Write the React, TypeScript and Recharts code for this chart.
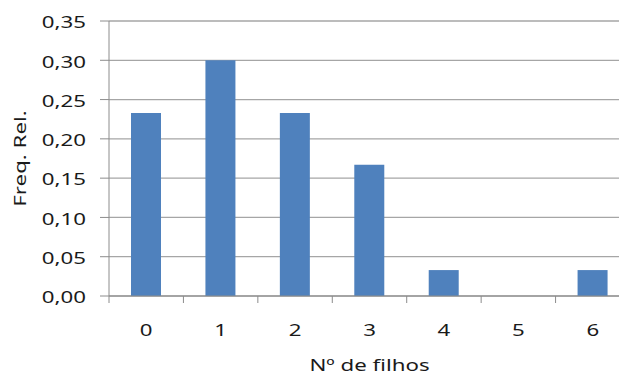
import { BarChart, Bar, XAxis, YAxis, CartesianGrid, Label } from 'recharts'

const categories = ['0', '1', '2', '3', '4', '5', '6']
const freqRel = [0.233, 0.3, 0.233, 0.167, 0.033, 0, 0.033]
const yTicks = [0, 0.05, 0.1, 0.15, 0.2, 0.25, 0.3, 0.35]

const data = categories.map((name, i) => ({ name, value: freqRel[i] }))

const FONT = '"Noto Sans", "Open Sans", sans-serif'
const TEXT = '#1a1a1a'
const AXIS = '#8c8c8c'
const SX = 1.35
const X_TICK_GAP = 26 // tickSize + tickMargin of the category axis

function YTick({ x, y, payload }: any) {
    const label = Number(payload.value).toFixed(2).replace('.', ',')
    return (
        <g transform={`translate(${x},${y + 1})`}>
            <text transform={`scale(${SX},1)`} textAnchor="end" dominantBaseline="central"
                fontFamily={FONT} fontSize={16.5} fill={TEXT}>{label}</text>
        </g>
    )
}

// label at the band centre, tick mark at the band's left edge (Excel style)
function XTick({ x, y, payload, width, visibleTicksCount, index }: any) {
    const half = width / (visibleTicksCount || categories.length) / 2
    const axisY = y - X_TICK_GAP
    return (
        <g>
            <line x1={x - half} x2={x - half} y1={axisY} y2={axisY + 7} stroke={AXIS} />
            {index === categories.length - 1 &&
                <line x1={x + half} x2={x + half} y1={axisY} y2={axisY + 7} stroke={AXIS} />}
            <g transform={`translate(${x},${y + 8})`}>
                <text transform={`scale(${SX},1)`} textAnchor="middle" dominantBaseline="central"
                    fontFamily={FONT} fontSize={16.5} fill={TEXT}>{payload.value}</text>
            </g>
        </g>
    )
}

function YTitle({ viewBox }: any) {
    const cx = viewBox.x + 20
    const cy = viewBox.y + viewBox.height / 2
    return (
        <g transform={`translate(${cx},${cy}) rotate(-90)`}>
            <text transform={`scale(${SX},1)`} textAnchor="middle" dominantBaseline="central"
                fontFamily={FONT} fontSize={16.5} fill={TEXT}>Freq. Rel.</text>
        </g>
    )
}

function XTitle({ viewBox }: any) {
    const cx = viewBox.x + viewBox.width / 2
    const cy = viewBox.y + 69
    return (
        <g transform={`translate(${cx},${cy})`}>
            <text transform={`scale(${SX},1)`} textAnchor="middle" dominantBaseline="central"
                fontFamily={FONT} fontSize={16.5} fill={TEXT}>Nº de filhos</text>
        </g>
    )
}

export default function App() {
    return (
        <div style={{ position: 'absolute', left: 0, top: 0, width: 619, height: 377, overflow: 'hidden', background: '#fff' }}>
            <BarChart width={640} height={377} data={data}
                margin={{ top: 21, right: 10, left: 0, bottom: 0 }}>
                <CartesianGrid vertical={false} stroke="#a6a6a6" strokeWidth={1.3} />
                <XAxis dataKey="name" height={81} tickLine={false}
                    axisLine={{ stroke: AXIS }} tickSize={8} tickMargin={18} tick={<XTick />}
                    interval={0}>
                    <Label content={<XTitle />} />
                </XAxis>
                <YAxis domain={[0, 0.35]} ticks={yTicks} width={109} tickSize={9} tickMargin={14}
                    axisLine={{ stroke: AXIS }} tickLine={{ stroke: AXIS }} tick={<YTick />}
                    interval={0}>
                    <Label content={<YTitle />} />
                </YAxis>
                <Bar dataKey="value" fill="#4f81bd" barSize={30} isAnimationActive={false} />
            </BarChart>
        </div>
    )
}
